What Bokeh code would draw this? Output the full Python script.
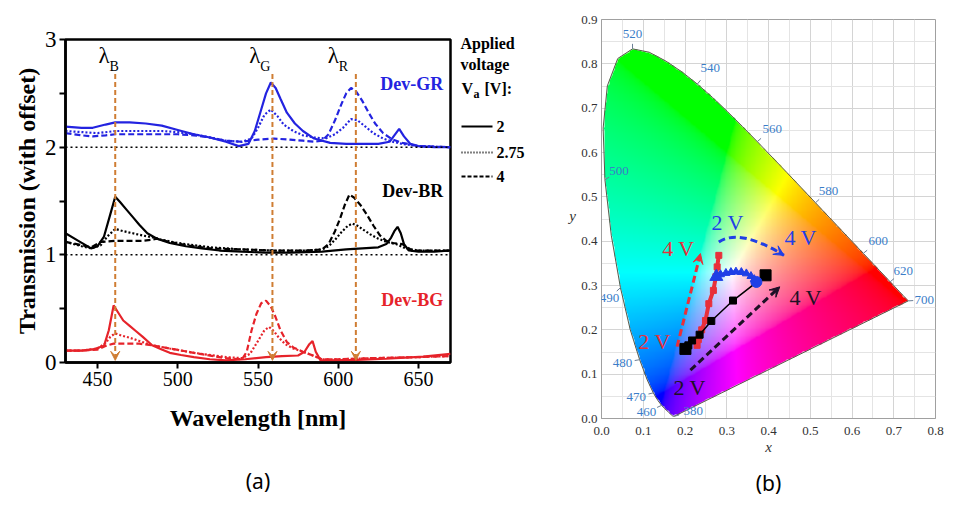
import numpy as np
from bokeh.plotting import figure
from bokeh.layouts import row
from bokeh.models import (Label, Arrow, VeeHead, Span, FixedTicker, PrintfTickFormatter,
                          LinearAxis, Range1d, AllLabels)
from bokeh.embed import file_html
from bokeh.resources import INLINE

SERIF = "Liberation Serif"

# ---------------- (a) transmission spectra ----------------
gr_solid_wl = [430, 440, 447, 455, 461, 470, 480, 490, 500, 510, 520, 530, 538, 544, 548, 552, 555, 558, 561, 564, 568, 573, 578, 585, 595, 605, 615, 625, 632, 635, 638, 641, 645, 650, 660, 670]
gr_solid_v = [2.19, 2.18, 2.18, 2.21, 2.23, 2.23, 2.22, 2.20, 2.16, 2.12, 2.09, 2.05, 2.01, 2.03, 2.15, 2.35, 2.50, 2.60, 2.55, 2.45, 2.32, 2.22, 2.15, 2.08, 2.04, 2.03, 2.03, 2.03, 2.05, 2.11, 2.17, 2.10, 2.03, 2.01, 2.00, 2.00]
gr_dot_wl = [430, 440, 450, 461, 470, 480, 490, 500, 510, 520, 530, 540, 546, 550, 554, 558, 562, 566, 572, 578, 585, 592, 598, 603, 608, 612, 617, 622, 628, 634, 640, 650, 670]
gr_dot_v = [2.15, 2.14, 2.13, 2.15, 2.15, 2.15, 2.15, 2.14, 2.12, 2.09, 2.06, 2.05, 2.08, 2.18, 2.30, 2.35, 2.29, 2.21, 2.15, 2.11, 2.09, 2.08, 2.12, 2.18, 2.26, 2.25, 2.19, 2.13, 2.08, 2.05, 2.03, 2.01, 2.00]
gr_dash_wl = [430, 440, 447, 455, 461, 470, 480, 490, 500, 510, 520, 530, 540, 550, 560, 570, 578, 585, 590, 594, 598, 602, 605, 608, 611, 615, 619, 623, 628, 634, 640, 650, 670]
gr_dash_v = [2.13, 2.11, 2.10, 2.11, 2.12, 2.12, 2.12, 2.12, 2.12, 2.11, 2.09, 2.06, 2.05, 2.07, 2.08, 2.07, 2.06, 2.05, 2.06, 2.12, 2.25, 2.40, 2.50, 2.55, 2.52, 2.43, 2.32, 2.22, 2.13, 2.07, 2.04, 2.01, 2.00]

br_solid_wl = [430, 438, 446, 450, 454, 458, 461, 464, 468, 472, 476, 481, 487, 495, 505, 515, 526, 540, 555, 570, 590, 605, 615, 625, 630, 633, 635, 637, 639, 641, 644, 650, 660, 670]
br_solid_v = [1.20, 1.13, 1.06, 1.08, 1.17, 1.38, 1.54, 1.49, 1.42, 1.35, 1.28, 1.20, 1.15, 1.11, 1.08, 1.06, 1.04, 1.03, 1.02, 1.02, 1.03, 1.05, 1.06, 1.07, 1.10, 1.16, 1.22, 1.26, 1.20, 1.10, 1.04, 1.03, 1.03, 1.04]
br_dot_wl = [430, 440, 446, 452, 456, 461, 466, 472, 478, 485, 490, 500, 510, 520, 540, 560, 580, 590, 594, 598, 602, 606, 609, 612, 616, 620, 625, 630, 636, 642, 650, 670]
br_dot_v = [1.12, 1.08, 1.06, 1.09, 1.17, 1.24, 1.22, 1.20, 1.18, 1.16, 1.14, 1.11, 1.09, 1.07, 1.05, 1.04, 1.04, 1.05, 1.08, 1.14, 1.21, 1.27, 1.29, 1.27, 1.23, 1.19, 1.15, 1.12, 1.10, 1.06, 1.04, 1.04]
br_dash_wl = [430, 440, 446, 452, 461, 470, 478, 484, 487, 495, 505, 520, 540, 560, 580, 590, 594, 598, 601, 604, 607, 610, 614, 618, 622, 626, 630, 634, 640, 643, 646, 650, 670]
br_dash_v = [1.12, 1.09, 1.07, 1.12, 1.13, 1.13, 1.13, 1.14, 1.15, 1.12, 1.09, 1.06, 1.05, 1.04, 1.04, 1.05, 1.10, 1.22, 1.33, 1.46, 1.56, 1.53, 1.46, 1.37, 1.27, 1.18, 1.13, 1.11, 1.10, 1.07, 1.04, 1.04, 1.04]

bg_solid_wl = [430, 440, 448, 454, 457, 460, 463, 466, 470, 474, 478, 484, 490, 495, 502, 510, 520, 530, 542, 555, 565, 575, 579, 582, 584, 586, 589, 595, 612, 630, 653, 670]
bg_solid_v = [0.11, 0.11, 0.125, 0.155, 0.30, 0.53, 0.46, 0.39, 0.34, 0.29, 0.24, 0.16, 0.12, 0.09, 0.07, 0.05, 0.03, 0.02, 0.03, 0.05, 0.06, 0.065, 0.10, 0.17, 0.20, 0.10, 0.02, 0.02, 0.025, 0.035, 0.055, 0.08]
bg_dot_wl = [430, 440, 450, 455, 458, 461, 465, 470, 476, 484, 495, 510, 530, 540, 545, 550, 554, 557, 560, 563, 567, 572, 578, 585, 590, 600, 620, 650, 670]
bg_dot_v = [0.11, 0.11, 0.13, 0.18, 0.24, 0.27, 0.25, 0.23, 0.20, 0.16, 0.13, 0.09, 0.05, 0.04, 0.08, 0.20, 0.30, 0.33, 0.29, 0.23, 0.17, 0.13, 0.10, 0.06, 0.03, 0.03, 0.04, 0.05, 0.06]
bg_dash_wl = [430, 440, 450, 456, 460, 468, 476, 484, 495, 510, 530, 540, 543, 546, 549, 552, 555, 558, 561, 564, 568, 572, 578, 585, 590, 600, 620, 650, 670]
bg_dash_v = [0.11, 0.11, 0.12, 0.16, 0.175, 0.175, 0.175, 0.16, 0.13, 0.09, 0.04, 0.03, 0.10, 0.30, 0.45, 0.55, 0.575, 0.52, 0.42, 0.30, 0.19, 0.14, 0.10, 0.06, 0.03, 0.03, 0.04, 0.05, 0.06]

lam_pos = [461, 559, 611]
lam_subs = ["B", "G", "R"]
lam_label_wl = [454, 548, 597]
baselines = [1, 2]
dev_names = ["Dev-GR", "Dev-BR", "Dev-BG"]
dev_y = [2.59, 1.59, 0.58]
voltages = ["2", "2.75", "4"]
legend_title = ["Applied", "voltage"]

# ---------------- (b) CIE chromaticity ----------------
locus_wl = [380, 385, 390, 395, 400, 405, 410, 415, 420, 425, 430, 435, 440, 445, 450, 455, 460, 465, 470, 475, 480, 485, 490, 495, 500, 505, 510, 515, 520, 525, 530, 535, 540, 545, 550, 555, 560, 565, 570, 575, 580, 585, 590, 595, 600, 605, 610, 615, 620, 625, 630, 635, 640, 645, 650, 655, 660, 665, 670, 680, 690, 700]
locus_x = [0.1741, 0.1740, 0.1738, 0.1736, 0.1733, 0.1730, 0.1726, 0.1721, 0.1714, 0.1703, 0.1689, 0.1669, 0.1644, 0.1611, 0.1566, 0.1510, 0.1440, 0.1355, 0.1241, 0.1096, 0.0913, 0.0687, 0.0454, 0.0235, 0.0082, 0.0039, 0.0139, 0.0389, 0.0743, 0.1142, 0.1547, 0.1929, 0.2296, 0.2658, 0.3016, 0.3373, 0.3731, 0.4087, 0.4441, 0.4788, 0.5125, 0.5448, 0.5752, 0.6029, 0.6270, 0.6482, 0.6658, 0.6801, 0.6915, 0.7006, 0.7079, 0.7140, 0.7190, 0.7230, 0.7260, 0.7283, 0.7300, 0.7311, 0.7320, 0.7334, 0.7344, 0.7347]
locus_y = [0.0050, 0.0050, 0.0049, 0.0049, 0.0048, 0.0048, 0.0048, 0.0048, 0.0051, 0.0058, 0.0069, 0.0086, 0.0109, 0.0138, 0.0177, 0.0227, 0.0297, 0.0399, 0.0578, 0.0868, 0.1327, 0.2007, 0.2950, 0.4127, 0.5384, 0.6548, 0.7502, 0.8120, 0.8338, 0.8262, 0.8059, 0.7816, 0.7543, 0.7243, 0.6923, 0.6589, 0.6245, 0.5896, 0.5547, 0.5202, 0.4866, 0.4544, 0.4242, 0.3965, 0.3725, 0.3514, 0.3340, 0.3197, 0.3083, 0.2993, 0.2920, 0.2859, 0.2809, 0.2770, 0.2740, 0.2717, 0.2700, 0.2689, 0.2680, 0.2666, 0.2656, 0.2653]
wl_marks = [520, 540, 560, 580, 600, 620, 700, 500, 490, 480, 470, 460, 380]
wl_mark_off = [(0, -15), (13, -16), (15, -13), (13, -12), (15, -12), (13, -11), (16, -1), (14, -9), (-11, 10), (-17, 3), (-17, 4), (-15, 7), (19, -5)]

black_x = [0.201, 0.208, 0.217, 0.235, 0.263, 0.315, 0.393]
black_y = [0.157, 0.165, 0.176, 0.189, 0.220, 0.266, 0.323]
red_x = [0.229, 0.232, 0.240, 0.249, 0.257, 0.268, 0.274, 0.277, 0.281]
red_y = [0.165, 0.178, 0.200, 0.221, 0.259, 0.289, 0.320, 0.342, 0.368]
blue_x = [0.275, 0.285, 0.298, 0.310, 0.322, 0.335, 0.347, 0.358, 0.366, 0.371]
blue_y = [0.320, 0.325, 0.328, 0.330, 0.331, 0.330, 0.327, 0.321, 0.314, 0.308]

red_arrow = (0.181, 0.162, 0.237, 0.372)
black_arrow = (0.213, 0.109, 0.427, 0.297)
blue_arc = (0.281, 0.398, 0.437, 0.368, 0.330, 0.430)
v_labels = [("2 V", 0.302, 0.442, "blue"), ("4 V", 0.477, 0.409, "blue"),
            ("4 V", 0.184, 0.384, "red"), ("2 V", 0.127, 0.173, "red"),
            ("4 V", 0.489, 0.274, "black"), ("2 V", 0.211, 0.070, "black")]

BLUE = "#2323e0"
RED = "#e6232a"
ORANGE = "#cf7d33"
CBLUE = "#1f3fe6"
CRED = "#e8303a"
CBLACK = "#1e1026"
WLBLUE = "#3b7dc8"


def lab(p, x, y, text, size, color="black", style="normal", align="left",
        baseline="middle", font=SERIF):
    p.add_layout(Label(x=x, y=y, text=text, text_font=font, text_font_size=size,
                       text_color=color, text_font_style=style, text_align=align,
                       text_baseline=baseline))


def no_align(p):
    try:
        p.frame_align = False
    except Exception:
        pass


def caption_axis(text, standoff):
    return LinearAxis(axis_label=text, ticker=FixedTicker(ticks=[]), axis_line_color=None,
                      major_tick_line_color=None, minor_tick_line_color=None,
                      major_tick_out=0, major_tick_in=0, minor_tick_out=0, minor_tick_in=0,
                      major_label_text_font_size="1px", major_label_standoff=0,
                      axis_label_standoff=standoff, axis_label_text_font="Noto Sans",
                      axis_label_text_font_size="21px", axis_label_text_font_style="normal",
                      axis_label_text_color="black")


# ---------- panel (a) ----------
p1 = figure(width=453, height=504, x_range=(430, 670), y_range=(0, 3),
            output_backend="svg", toolbar_location=None,
            min_border_left=65, min_border_right=3, min_border_top=39,
            min_border_bottom=142)
no_align(p1)
p1.grid.visible = False
p1.outline_line_color = "black"
p1.outline_line_width = 2.5
p1.outline_line_alpha = 1.0

p1.xaxis.ticker = FixedTicker(ticks=[450, 500, 550, 600, 650])
p1.yaxis.ticker = FixedTicker(ticks=[0, 1, 2, 3], minor_ticks=[0.5, 1.5, 2.5])
for ax in (p1.xaxis, p1.yaxis):
    ax.axis_line_width = 2.5
    ax.major_tick_line_width = 2
    ax.minor_tick_line_width = 2
    ax.major_tick_out = 6
    ax.major_tick_in = 0
    ax.minor_tick_out = 6
    ax.minor_tick_in = 0
    ax.major_label_text_font = SERIF
    ax.major_label_text_color = "black"
    ax.axis_label_text_font = SERIF
    ax.axis_label_text_font_style = "bold"
    ax.axis_label_text_color = "black"
    ax.axis_label_text_font_size = "24px"
    ax.major_label_standoff = 3
p1.xaxis.minor_tick_line_color = None
p1.xaxis.major_label_text_font_size = "20px"
p1.yaxis.major_label_text_font_size = "23px"
p1.xaxis.axis_label = "Wavelength [nm]"
p1.yaxis.axis_label = "Transmission (with offset)"
p1.xaxis.axis_label_standoff = 16
p1.yaxis.axis_label_standoff = 2
p1.add_layout(caption_axis("(a)", 33), "below")

for b in baselines:
    p1.add_layout(Span(location=b, dimension="width", line_color="black",
                       line_width=1.5, line_dash="2 3"))

for lam, sub, lx in zip(lam_pos, lam_subs, lam_label_wl):
    p1.add_layout(Arrow(x_start=lam, y_start=2.68, x_end=lam, y_end=0.02,
                        line_color=ORANGE, line_width=2, line_dash="5 3",
                        end=VeeHead(size=9, fill_color=ORANGE, line_color=ORANGE,
                                    line_width=1)))
    lab(p1, lx, 2.85, "λ", "23px", align="center")
    lab(p1, lx + 3.4, 2.75, sub, "14px", align="left")

curves = [
    (gr_solid_wl, gr_solid_v, BLUE, "solid"), (gr_dot_wl, gr_dot_v, BLUE, "2 2"),
    (gr_dash_wl, gr_dash_v, BLUE, "6 3"),
    (br_solid_wl, br_solid_v, "black", "solid"), (br_dot_wl, br_dot_v, "black", "2 2"),
    (br_dash_wl, br_dash_v, "black", "6 3"),
    (bg_solid_wl, bg_solid_v, RED, "solid"), (bg_dot_wl, bg_dot_v, RED, "2 2"),
    (bg_dash_wl, bg_dash_v, RED, "6 3"),
]
for wl, v, c, d in curves:
    p1.line(wl, v, line_color=c, line_width=2.2, line_dash=d)

for name, yv, c in zip(dev_names, dev_y, [BLUE, "black", RED]):
    lab(p1, 665.5, yv, name, "18px", color=c, style="bold", align="right")

# ---------- legend strip between the panels (its frame is the whole strip, in px) ----------
pl = figure(width=124, height=504, x_range=Range1d(453, 577), y_range=Range1d(504, 0),
            output_backend="svg", toolbar_location=None, x_axis_location=None,
            y_axis_location=None, min_border=0, outline_line_color=None)
no_align(pl)
pl.grid.visible = False
for t, yy in zip(legend_title, [43, 64]):
    lab(pl, 460, yy, t, "16px", style="bold")
lab(pl, 461, 88, "V", "16px", style="bold")
lab(pl, 473, 93, "a", "12px", style="bold")
lab(pl, 484, 88, "[V]:", "16px", style="bold")
for vt, yy, d in zip(voltages, [126, 152, 176], ["solid", "1 2", "4 2"]):
    pl.line([461, 492], [yy, yy], line_color="black", line_width=2, line_dash=d)
    lab(pl, 496, yy, vt, "16px", style="bold")
# y-axis title of panel (b), which sits in this strip
lab(pl, 572, 215, "y", "15px", color="#333333", style="italic", align="center")

# ---------- panel (b) ----------
p2 = figure(width=370, height=504, x_range=(0, 0.8), y_range=(0, 0.9),
            output_backend="svg", toolbar_location=None,
            min_border_left=24, min_border_right=12, min_border_top=19,
            min_border_bottom=86)
no_align(p2)
p2.outline_line_color = "#a0a0a0"
p2.outline_line_width = 1
lookup = dict(zip(locus_wl, zip(locus_x, locus_y)))
xt = [i / 10 for i in range(9)]
xm = [round(0.05 + 0.1 * i, 2) for i in range(8)]
yt = [i / 10 for i in range(10)]
ym = [round(0.05 + 0.1 * i, 2) for i in range(9)]
p2.xaxis.ticker = FixedTicker(ticks=xt, minor_ticks=xm)
p2.yaxis.ticker = FixedTicker(ticks=yt, minor_ticks=ym)
p2.xaxis.formatter = PrintfTickFormatter(format="%.1f")
p2.yaxis.formatter = PrintfTickFormatter(format="%.1f")
for ax in (p2.xaxis, p2.yaxis):
    ax.axis_line_color = "#a0a0a0"
    ax.major_tick_line_color = None
    ax.minor_tick_line_color = None
    ax.major_tick_out = 0
    ax.minor_tick_out = 0
    ax.major_label_text_font = SERIF
    ax.major_label_text_font_size = "13px"
    ax.major_label_text_color = "#333333"
    ax.major_label_standoff = 4
    ax.major_label_policy = AllLabels()
    ax.axis_label_text_font = SERIF
    ax.axis_label_text_font_style = "italic"
    ax.axis_label_text_font_size = "15px"
    ax.axis_label_text_color = "#333333"
p2.xaxis.major_label_standoff = 8
p2.xaxis.axis_label = "x"
p2.xaxis.axis_label_standoff = 1
p2.add_layout(caption_axis("(b)", 11), "below")
p2.grid.grid_line_color = "#d4d4d4"
p2.grid.minor_grid_line_color = "#e4e4e4"

# gamut background (colour of each chromaticity inside the spectral locus)
nx, ny = 400, 450
gx = np.linspace(0, 0.8, nx)
gy = np.linspace(0, 0.9, ny)
GX, GY = np.meshgrid(gx, gy)
yy_ = np.maximum(GY, 1e-4)
Xc = GX / yy_
Zc = (1 - GX - GY) / yy_
R = 3.2406 * Xc - 1.5372 - 0.4986 * Zc
G = -0.9689 * Xc + 1.8758 + 0.0415 * Zc
B = 0.0557 * Xc - 0.2040 + 1.0570 * Zc
rgb = np.clip(np.stack([R, G, B], -1), 0, None)
rgb = rgb / np.clip(rgb.max(-1, keepdims=True), 1e-9, None)
rgb = rgb ** (1 / 2.2)
px = np.array(locus_x + [locus_x[0]])
py = np.array(locus_y + [locus_y[0]])
inside = np.zeros(GX.shape, dtype=bool)
for i in range(len(px) - 1):
    x1, y1, x2, y2 = px[i], py[i], px[i + 1], py[i + 1]
    cond = ((y1 > GY) != (y2 > GY))
    xint = (x2 - x1) * (GY - y1) / ((y2 - y1) if y2 != y1 else 1e-12) + x1
    inside ^= cond & (GX < xint)
img = np.zeros((ny, nx), dtype=np.uint32)
view = img.view(dtype=np.uint8).reshape((ny, nx, 4))
view[..., 0] = (rgb[..., 0] * 255).astype(np.uint8)
view[..., 1] = (rgb[..., 1] * 255).astype(np.uint8)
view[..., 2] = (rgb[..., 2] * 255).astype(np.uint8)
view[..., 3] = np.where(inside, 255, 0).astype(np.uint8)
p2.image_rgba(image=[img], x=0, y=0, dw=0.8, dh=0.9)
p2.line(list(px), list(py), line_color="#5a5a4a", line_width=1)

# wavelength marks
SX, SY = 417.5, 443.0  # px per data unit
tx0, ty0, tx1, ty1 = [], [], [], []
for w, (dx, dy) in zip(wl_marks, wl_mark_off):
    lx, ly = lookup[w]
    n = (dx * dx + dy * dy) ** 0.5
    tx0.append(lx); ty0.append(ly)
    tx1.append(lx + 5 * dx / n / SX); ty1.append(ly - 5 * dy / n / SY)
    lab(p2, lx + dx / SX, ly - dy / SY, str(w), "13px", color=WLBLUE, align="center")
p2.segment(tx0, ty0, tx1, ty1, line_color="#6a7d95", line_width=1)

# trajectories
p2.line(red_x, red_y, line_color=CRED, line_width=4)
p2.scatter(red_x, red_y, marker="square", size=6, fill_color=CRED, line_color=CRED)
p2.line(black_x, black_y, line_color="black", line_width=1.5)
p2.scatter(black_x[1:-1], black_y[1:-1], marker="square", size=7, fill_color="black", line_color="black")
p2.scatter([black_x[0], black_x[-1]], [black_y[0], black_y[-1]], marker="square", size=11,
           fill_color="black", line_color="black")
p2.line(blue_x, blue_y, line_color=CBLUE, line_width=3)
p2.scatter(blue_x[1:-1], blue_y[1:-1], marker="triangle", size=8, fill_color=CBLUE, line_color=CBLUE)
p2.scatter([blue_x[0]], [blue_y[0]], marker="triangle", size=13, fill_color=CBLUE, line_color=CBLUE)
p2.scatter([blue_x[-1]], [blue_y[-1]], marker="circle", size=11, fill_color=CBLUE, line_color=CBLUE)

# arrows
for (x0, y0, x1, y1), c in [(red_arrow, CRED), (black_arrow, CBLACK)]:
    p2.add_layout(Arrow(x_start=x0, y_start=y0, x_end=x1, y_end=y1, line_color=c,
                        line_width=3, line_dash="7 4",
                        end=VeeHead(size=10, fill_color=c, line_color=c)))
ax0, ay0, ax1, ay1, acx, acy = blue_arc
p2.quadratic(x0=[ax0], y0=[ay0], x1=[ax1], y1=[ay1], cx=[acx], cy=[acy],
             line_color=CBLUE, line_width=3, line_dash="7 4")
tdx, tdy = ax1 - acx, ay1 - acy
tn = (tdx * tdx + tdy * tdy) ** 0.5
p2.add_layout(Arrow(x_start=ax1 - 0.012 * tdx / tn, y_start=ay1 - 0.012 * tdy / tn,
                    x_end=ax1, y_end=ay1, line_color=CBLUE, line_width=3,
                    end=VeeHead(size=10, fill_color=CBLUE, line_color=CBLUE)))

cmap = {"blue": CBLUE, "red": CRED, "black": CBLACK}
for t, x, y, c in v_labels:
    lab(p2, x, y, t, "22px", color=cmap[c], align="center")

layout = row(p1, pl, p2)
open("out.html", "w").write(file_html(layout, INLINE))
